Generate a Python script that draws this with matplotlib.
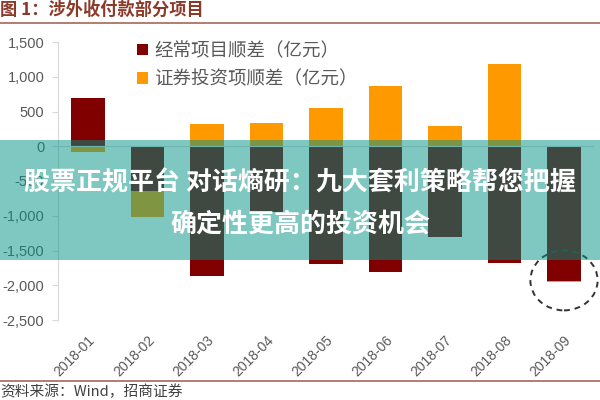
import numpy as np
import matplotlib
matplotlib.use('Agg')
import matplotlib.pyplot as plt
from matplotlib.patches import Ellipse, Rectangle
from matplotlib.lines import Line2D

plt.rcParams['font.family'] = ['Noto Sans CJK SC', 'DejaVu Sans']

months = ['2018-01', '2018-02', '2018-03', '2018-04', '2018-05',
          '2018-06', '2018-07', '2018-08', '2018-09']
current_account = np.array([694, -650, -1867, -950, -1695, -1810, -1310, -1675, -1935])
securities = np.array([-79, -364, 320, 340, 550, 865, 290, 1185, -20])
yticks = [1500, 1000, 500, 0, -500, -1000, -1500, -2000, -2500]

fig = plt.figure(figsize=(6, 4), dpi=100)
ax = fig.add_axes([58.25 / 600, 0.2, (593.75 - 58.25) / 600, 278 / 400])

x = np.arange(len(months))
# negative values stack under the current account bar
bottom = np.where((securities < 0) & (current_account < 0), current_account, 0)
b1 = ax.bar(x, current_account, width=0.57, color='#800000', label='经常项目顺差（亿元）')
b2 = ax.bar(x, securities, width=0.57, bottom=bottom, color='#FF9900', label='证券投资项顺差（亿元）')

ax.set_xlim(-0.5, 8.5)
ax.set_ylim(-2500, 1500)
ax.set_yticks(yticks)
ax.set_yticklabels([f'{v:,}' for v in yticks], family='Liberation Sans', fontsize=10.5, color='#595959')
ax.set_xticks(x)
ax.set_xticklabels(months, rotation=45, ha='right', rotation_mode='anchor',
                   family='Liberation Sans', fontsize=10, color='#595959')
ax.xaxis.set_ticks_position('none')
ax.tick_params(axis='x', pad=6)
ax.tick_params(axis='y', length=4, color='#d9d9d9', pad=6)
for s in ['top', 'right', 'bottom']:
    ax.spines[s].set_visible(False)
ax.spines['left'].set_color('#d9d9d9')
ax.axhline(0, color='#d9d9d9', lw=0.8, zorder=1)

ax.legend(loc='upper left', bbox_to_anchor=(0.147, 1.0), frameon=False, fontsize=13.3,
          labelcolor='#595959', handlelength=0.6, handleheight=0.6, handletextpad=0.35,
          labelspacing=0.55, borderpad=0, borderaxespad=0)

# dashed circle around the last month
ax.add_patch(Ellipse((8, -1930), 1.13, 863, fill=False, ec='#333333', ls=(0, (3, 2.5)),
                     lw=1.4, clip_on=False, zorder=4))

# title, source and rules
fig.text(0 / 600, 1 - 10 / 400, '图 1：涉外收付款部分项目', fontsize=12.4, weight='bold',
         color='#8B3A2A', va='center', ha='left')
fig.text(0 / 600, 1 - 392 / 400, '资料来源：Wind，招商证券', fontsize=10.6, color='#404040',
         va='center', ha='left')
for y in (23, 381):
    fig.add_artist(Line2D([0, 1], [1 - y / 400] * 2, color='#A5675A', lw=1.2))

# translucent banner across the chart
fig.add_artist(Rectangle((0, 1 - 260 / 400), 1, 120 / 400, transform=fig.transFigure,
                         color='#009385', alpha=0.5, lw=0, zorder=5))
fig.text(0.5, 1 - 183 / 400, '股票正规平台 对话熵研：九大套利策略帮您把握', fontsize=18.7, weight='bold',
         color='white', ha='center', va='center', zorder=6)
fig.text(0.5, 1 - 224 / 400, '确定性更高的投资机会', fontsize=18.7, weight='bold',
         color='white', ha='center', va='center', zorder=6)

fig.savefig('out.png', dpi=100)
